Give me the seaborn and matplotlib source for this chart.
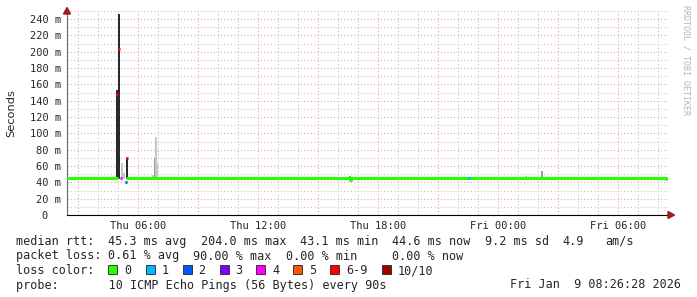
import numpy as np
import pandas as pd
import matplotlib
matplotlib.use("Agg")
import matplotlib.pyplot as plt
from matplotlib.patches import Rectangle, Polygon
from matplotlib.ticker import MultipleLocator, FuncFormatter
import seaborn as sns

# ---------------- data (hours since Thu 00:00, values in ms) ----------------
median_t = [2.45, 4.93, 5.47, 16.57, 16.6, 16.65, 32.4]
median_v = [45.3, 45.3, 45.3, 45.3, 43.0, 45.3, 44.6]
median_seg = [0, 0, 1, 1, 1, 1, 1]

smoke_t = [4.95, 5.05, 5.2, 5.3, 5.45, 6.75, 6.85, 6.9, 6.95, 15.25, 16.6, 17.8, 25.4, 26.15, 26.2]
smoke_lo = [44, 44, 44, 44, 44, 44, 44, 44, 44, 44, 44, 44, 44, 44, 44]
smoke_hi = [153, 246, 64, 52, 70, 49, 70, 96, 64, 46.5, 48, 46.5, 48, 47, 54]
smoke_shade = ["dark", "dark", "light", "light", "dark", "light", "mid", "light", "light",
               "light", "mid", "light", "light", "light", "mid"]

loss_t = [4.95, 5.05, 5.15, 5.4, 5.45, 22.55]
loss_v = [148, 203, 45.3, 40, 70, 45.3]
loss_cat = ["6-9", "6-9", "4", "2", "6-9", "1"]

loss_labels = ["0", "1", "2", "3", "4", "5", "6-9", "10/10"]
loss_colors = ["#26ff00", "#00b8ff", "#0059ff", "#7e00ff", "#ff00ff", "#ff5500", "#ff0000", "#a10000"]

x_tick_hours = [6, 12, 18, 24, 30]
x_tick_labels = ["Thu 06:00", "Thu 12:00", "Thu 18:00", "Fri 00:00", "Fri 06:00"]

row1 = ["median rtt:", "45.3 ms avg", "204.0 ms max", "43.1 ms min", "44.6 ms now", "9.2 ms sd", "4.9", "am/s"]
row1_cols = [0, 13, 26, 40, 53, 66, 77, 83]
row2 = ["packet loss:", "0.61 % avg", "90.00 % max", "0.00 % min", "0.00 % now"]
row2_cols = [0, 13, 25, 38, 53]
probe_text = "probe:       10 ICMP Echo Pings (56 Bytes) every 90s"
date_text = "Fri Jan  9 08:26:28 2026"

# ---------------- style ----------------
sns.set_style("white")
plt.rcParams["font.family"] = ["DejaVu Sans Mono", "DejaVu Sans"]
MONO = "DejaVu Sans Mono"

W, H = 697, 297
fig = plt.figure(figsize=(W / 100, H / 100), dpi=100)
fig.patch.set_facecolor("white")


def fx(px):
    return px / W


def fy(py):
    return 1 - py / H


L, R, T, B = 67, 668, 11, 215
ax = fig.add_axes([fx(L), fy(B), (R - L) / W, (B - T) / H])
ax.set_facecolor("white")
ax.set_xlim(2.45, 32.5)
ax.set_ylim(0, 250)

# grid
ax.xaxis.set_major_locator(MultipleLocator(3))
ax.xaxis.set_minor_locator(MultipleLocator(1))
ax.yaxis.set_major_locator(MultipleLocator(20))
ax.yaxis.set_minor_locator(MultipleLocator(10))
ax.grid(which="major", color="#e6a3a3", linestyle=(0, (1, 2)), linewidth=0.8)
ax.grid(which="minor", color="#c4c4c4", linestyle=(0, (1, 2)), linewidth=0.8)
ax.set_axisbelow(True)

lab_map = dict(zip(x_tick_hours, x_tick_labels))
ax.xaxis.set_major_formatter(FuncFormatter(lambda v, p: lab_map.get(int(round(v)), "") if abs(v - round(v)) < 1e-6 else ""))
ax.yaxis.set_major_formatter(FuncFormatter(lambda v, p: f"{int(round(v))} m" if v > 0.5 else "0  "))

ax.tick_params(axis="y", which="major", direction="inout", length=4, width=0.7, color="#555555",
               labelsize=7.5, pad=2.5)
ax.tick_params(axis="y", which="minor", direction="inout", length=2, width=0.7, color="#aaaaaa")
ax.tick_params(axis="x", which="major", direction="inout", length=4, width=0.7, color="#c08080",
               labelsize=7.5, pad=2)
ax.tick_params(axis="x", which="minor", direction="inout", length=2, width=0.7, color="#bbbbbb")

for s in ["top", "right"]:
    ax.spines[s].set_visible(False)
ax.spines["left"].set_color("#666666")
ax.spines["left"].set_linewidth(0.8)
ax.spines["bottom"].set_color("#000000")
ax.spines["bottom"].set_linewidth(0.8)

# smoke
shade_col = {"dark": "#2b2b2b", "mid": "#9a9a9a", "light": "#c6c6c6"}
for t, lo, hi, sh in zip(smoke_t, smoke_lo, smoke_hi, smoke_shade):
    ax.bar(t, hi - lo, bottom=lo, width=0.08, color=shade_col[sh], linewidth=0, zorder=2)

# median (loss 0)
df = pd.DataFrame({"t": median_t, "v": median_v, "seg": median_seg})
sns.lineplot(data=df, x="t", y="v", units="seg", estimator=None, color=loss_colors[0],
             linewidth=2.2, drawstyle="steps-post", ax=ax, legend=False, zorder=3)
ax.set_xlabel("")
ax.set_ylabel("")

# median with loss
cmap = dict(zip(loss_labels, loss_colors))
for t, v, c in zip(loss_t, loss_v, loss_cat):
    ax.hlines(v, t - 0.04, t + 0.04, color=cmap[c], linewidth=2.2, zorder=4)

for lbl in ax.get_xticklabels() + ax.get_yticklabels():
    lbl.set_fontfamily(MONO)

# arrows
arrow_col = "#9a1c1c"
fig.add_artist(Polygon([[fx(L - 3.5), fy(14)], [fx(L + 3.5), fy(14)], [fx(L), fy(7.5)]],
                       closed=True, color=arrow_col, transform=fig.transFigure))
fig.add_artist(Polygon([[fx(668), fy(B - 3.5)], [fx(668), fy(B + 3.5)], [fx(674.5), fy(B)]],
                       closed=True, color=arrow_col, transform=fig.transFigure))

# y label
fig.text(fx(11), fy(113), "Seconds", rotation=90, ha="center", va="center",
         fontsize=8.2, family="DejaVu Sans")

# watermark
fig.text(fx(686), fy(5), "RRDTOOL / TOBI OETIKER", rotation=270, ha="center", va="top",
         fontsize=6, family=MONO, color="#b4b4b4")

# legend rows
CW = 7.1
X0 = 16
FS = 8.5
for txt, col in zip(row1, row1_cols):
    fig.text(fx(X0 + col * CW), fy(245), txt, fontsize=FS, family=MONO, va="baseline")
for txt, col in zip(row2, row2_cols):
    fig.text(fx(X0 + col * CW), fy(259.5), txt, fontsize=FS, family=MONO, va="baseline")
fig.text(fx(X0), fy(274), "loss color:", fontsize=FS, family=MONO, va="baseline")
sq_x = [108, 145.5, 182.5, 219.5, 256, 293, 330, 381.5]
for x, lab, c in zip(sq_x, loss_labels, loss_colors):
    fig.add_artist(Rectangle((fx(x), fy(274)), 9 / W, 9 / H, facecolor=c, edgecolor="#222222",
                             linewidth=0.6, transform=fig.transFigure))
    fig.text(fx(x + 16), fy(274), lab, fontsize=FS, family=MONO, va="baseline")
fig.text(fx(X0), fy(288.5), probe_text, fontsize=FS, family=MONO, va="baseline")
fig.text(fx(681), fy(288.5), date_text, fontsize=FS, family=MONO, va="baseline", ha="right")

fig.savefig("out.png", dpi=100, facecolor="white")
